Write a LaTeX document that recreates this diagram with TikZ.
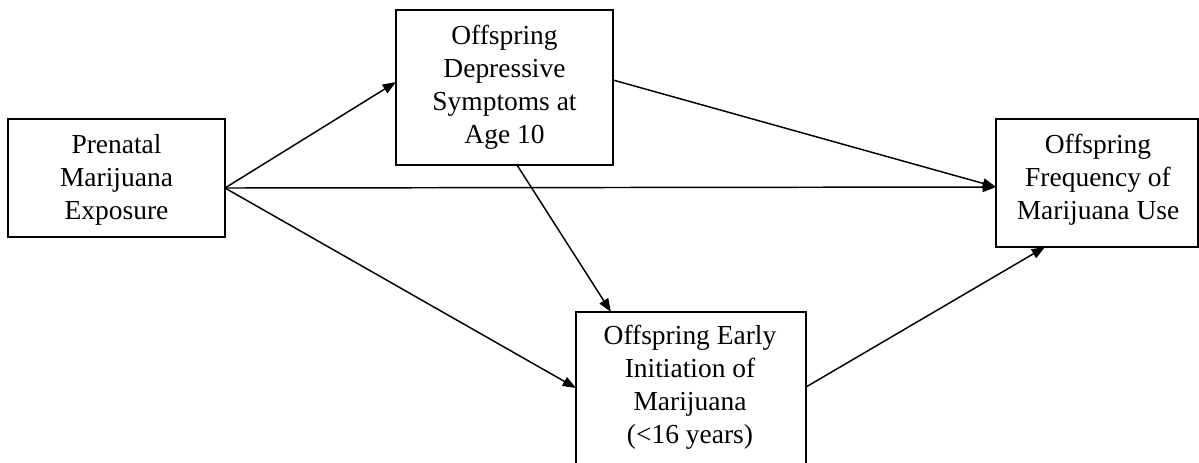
\documentclass[tikz,border=0pt]{standalone}
\usepackage{fontspec}
\setmainfont{Liberation Serif}
\usetikzlibrary{arrows.meta,calc}
\tikzset{
  boxnode/.style={draw, line width=1.1pt, inner sep=0pt, outer sep=0pt, fill=white},
  label/.style={align=center, font=\fontsize{20.6}{24.7}\selectfont, inner sep=0pt},
  conn/.style={line width=1.1pt, -{Triangle[length=10pt,width=7.5pt]}}
}
\begin{document}
\begin{tikzpicture}[x=0.75pt,y=-0.75pt]
\useasboundingbox (0,0) rectangle (1199,462);
\clip (0,0) rectangle (1199,462);
% boxes
\node[boxnode, minimum width=162.75pt, minimum height=88.5pt] (pre) at (116.5,178) {};
\node[boxnode, minimum width=162.75pt, minimum height=116.25pt] (dep) at (504.5,87.5) {};
\node[boxnode, minimum width=151.5pt, minimum height=96pt] (freq) at (1097,183) {};
\node[boxnode, minimum width=172.5pt, minimum height=126pt] (early) at (691,396) {};
% texts
\node[label] (preT) at (116.5,180) {Prenatal\\Marijuana\\Exposure};
\node[label] (depT) at (504.5,87) {Offspring\\Depressive\\Symptoms at\\Age 10};
\node[label] (freqT) at (1098,180) {Offspring\\Frequency of\\Marijuana Use};
\node[label] (earlyT) at (690,387) {Offspring Early\\Initiation of\\Marijuana\\(<16 years)};
% connector points
\coordinate (preOut) at ($(pre.east)+(0,10)$);
\coordinate (freqIn) at ($(freq.west)+(0,4)$);
% connectors
\draw[conn] (preOut) -- ($(dep.west)+(0,-5.5)$);
\draw[conn] (preOut) -- (freqIn);
\draw[conn] (preOut) -- ($(early.north west)+(0,76)$);
\draw[conn] ($(dep.east)+(0,-7.5)$) -- (freqIn);
\draw[conn] ($(dep.south)+(12.5,0)$) -- ($(early.north west)+(35,0)$);
\draw[conn] ($(early.north east)+(0,75)$) -- ($(freq.south west)+(49,0)$);
\end{tikzpicture}
\end{document}
